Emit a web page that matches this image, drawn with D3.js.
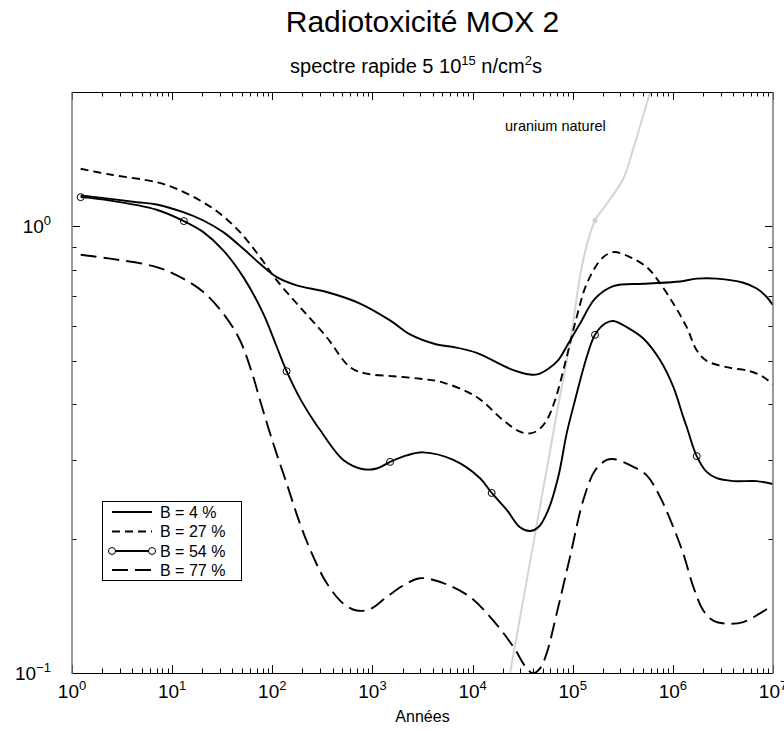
<!DOCTYPE html>
<html><head><meta charset="utf-8">
<script src="https://cdn.jsdelivr.net/npm/d3@7"></script>
<style>body{margin:0;background:#fff;} svg{display:block;font-family:"Liberation Sans",Arial,Helvetica,sans-serif;}</style>
</head><body><svg id="c" width="784" height="731"></svg>
<script>
// ---- data (years, relative radiotoxicity) ----
const years4 = [1.22, 2.4, 4.43, 7.01, 12.9, 20.5, 32.4, 51.4, 75.4, 111, 175, 349, 752, 1500, 2373, 4385, 6427, 10990, 23650, 37490, 45320, 57050, 71760, 90360, 118300, 167000, 254300, 507200, 1180000, 1730000, 2742000, 5056000, 6876000, 8655000, 10000000];
const vals4 = [1.173, 1.153, 1.133, 1.120, 1.076, 1.031, 0.971, 0.891, 0.825, 0.770, 0.738, 0.713, 0.672, 0.616, 0.573, 0.544, 0.537, 0.521, 0.480, 0.466, 0.467, 0.480, 0.502, 0.547, 0.606, 0.689, 0.735, 0.744, 0.753, 0.764, 0.764, 0.748, 0.726, 0.695, 0.666];

const years27 = [1.22, 2.4, 7.01, 11.1, 19.0, 30.1, 47.6, 75.4, 111, 189, 349, 597, 877, 1617, 2987, 5105, 10990, 20280, 29770, 37490, 45320, 54960, 66540, 87070, 109600, 138000, 194800, 254300, 373400, 548000, 690200, 1011000, 1374000, 1730000, 2178000, 3451000, 5893000, 8017000, 10000000];
const vals27 = [1.346, 1.307, 1.256, 1.214, 1.143, 1.068, 0.971, 0.854, 0.757, 0.660, 0.565, 0.484, 0.468, 0.462, 0.456, 0.447, 0.415, 0.368, 0.347, 0.344, 0.350, 0.368, 0.408, 0.510, 0.627, 0.744, 0.847, 0.876, 0.854, 0.811, 0.764, 0.672, 0.595, 0.528, 0.500, 0.484, 0.474, 0.460, 0.442];

const years54 = [1.22, 2.4, 7.01, 13.1, 20.5, 32.4, 51.4, 81.3, 111, 139, 189, 257, 300, 512, 811, 1104, 1500, 2199, 3222, 6427, 11870, 15530, 21930, 29770, 37490, 45320, 57050, 71760, 87070, 105400, 138000, 167000, 210300, 254300, 346000, 507200, 744700, 1011000, 1271000, 1374000, 1730000, 2178000, 2742000, 4018000, 6876000, 10000000];
const vals54 = [1.163, 1.143, 1.090, 1.028, 0.971, 0.884, 0.770, 0.638, 0.537, 0.474, 0.412, 0.368, 0.350, 0.300, 0.286, 0.287, 0.297, 0.307, 0.312, 0.300, 0.273, 0.253, 0.232, 0.212, 0.208, 0.212, 0.232, 0.275, 0.344, 0.408, 0.510, 0.572, 0.606, 0.614, 0.595, 0.561, 0.502, 0.437, 0.374, 0.356, 0.306, 0.282, 0.273, 0.269, 0.269, 0.265];
const markerYears54 = [1.22, 13.1, 139, 1500, 15530, 167000, 1730000];
const markerVals54 = [1.163, 1.028, 0.474, 0.297, 0.253, 0.572, 0.306];

const years77 = [1.22, 2.4, 7.01, 12.9, 20.5, 32.4, 47.6, 64.6, 75.4, 102, 139, 189, 257, 349, 512, 697, 946, 1388, 2034, 2987, 5105, 9425, 16110, 25510, 34730, 40430, 47110, 54960, 69210, 93970, 127600, 167000, 218700, 264300, 373400, 548000, 744700, 1011000, 1271000, 1600000, 2014000, 2535000, 3451000, 5056000, 7417000, 10000000];
const vals77 = [0.864, 0.847, 0.811, 0.764, 0.713, 0.638, 0.556, 0.460, 0.408, 0.327, 0.266, 0.216, 0.182, 0.159, 0.143, 0.138, 0.139, 0.148, 0.157, 0.163, 0.159, 0.148, 0.131, 0.1145, 0.1024, 0.0998, 0.1024, 0.1107, 0.136, 0.182, 0.244, 0.284, 0.300, 0.301, 0.292, 0.277, 0.248, 0.212, 0.185, 0.156, 0.138, 0.131, 0.129, 0.130, 0.136, 0.142];

const yearsU = [21090, 23650, 41050, 69660, 93970, 126800, 167000, 218700, 320100, 402900, 591400, 744700];
const valsU = [0.087, 0.0998, 0.1984, 0.3836, 0.550, 0.839, 1.031, 1.124, 1.280, 1.495, 1.994, 2.351];
const dotYearU = [167000];
const dotValU = [1.031];

const seriesNames = ["B = 4 %", "B = 27 %", "B = 54 %", "B = 77 %"];
const xTickExps = [0, 1, 2, 3, 4, 5, 6, 7];
const yTickExps = [-1, 0];
const minorMults = [2, 3, 4, 5, 6, 7, 8, 9];

const titleText = "Radiotoxicité MOX 2";
const xLabelText = "Années";
const uranLabel = "uranium naturel";

// ---- layout ----
const L = 72, R = 773, T = 92, B = 673;
const svg = d3.select("#c");
const x = d3.scaleLog().domain([1, 1e7]).range([L, R]);
const y = d3.scaleLog().domain([0.1, 2]).range([B, T]);

svg.append("defs").append("clipPath").attr("id", "clip")
  .append("rect").attr("x", L).attr("y", T).attr("width", R - L).attr("height", B - T);

// title
svg.append("text").attr("x", 422.5).attr("y", 32).attr("text-anchor", "middle")
  .attr("font-size", 30).attr("fill", "#000").text(titleText);
const sub = svg.append("text").attr("x", 416).attr("y", 73).attr("text-anchor", "middle")
  .attr("font-size", 20).attr("fill", "#000");
sub.append("tspan").text("spectre rapide 5 10");
sub.append("tspan").attr("dy", -8).attr("font-size", 13).text("15");
sub.append("tspan").attr("dy", 8).text(" n/cm");
sub.append("tspan").attr("dy", -8).attr("font-size", 13).text("2");
sub.append("tspan").attr("dy", 8).text("s");

// ticks
const tk = svg.append("g").attr("stroke", "#000").attr("stroke-width", 1);
const majLen = 8, minLen = 4.5;
xTickExps.forEach(e => {
  const v = Math.pow(10, e);
  const px = Math.round(x(v)) + 0.5;
  tk.append("line").attr("x1", px).attr("x2", px).attr("y1", B).attr("y2", B - majLen);
  tk.append("line").attr("x1", px).attr("x2", px).attr("y1", T).attr("y2", T + majLen);
  if (e < 7) minorMults.forEach(m => {
    const mx = Math.round(x(m * v)) + 0.5;
    tk.append("line").attr("x1", mx).attr("x2", mx).attr("y1", B).attr("y2", B - minLen);
    tk.append("line").attr("x1", mx).attr("x2", mx).attr("y1", T).attr("y2", T + minLen);
  });
});
yTickExps.forEach(e => {
  const v = Math.pow(10, e);
  const py = Math.round(y(v)) + 0.5;
  tk.append("line").attr("x1", L).attr("x2", L + majLen).attr("y1", py).attr("y2", py);
  tk.append("line").attr("x1", R).attr("x2", R - majLen).attr("y1", py).attr("y2", py);
  minorMults.forEach(m => {
    const mv = m * v;
    if (mv > 2.0001) return;
    const my = Math.round(y(mv)) + 0.5;
    tk.append("line").attr("x1", L).attr("x2", L + minLen).attr("y1", my).attr("y2", my);
    tk.append("line").attr("x1", R).attr("x2", R - minLen).attr("y1", my).attr("y2", my);
  });
});

// tick labels
function supText(g, px, py, anchor, exp) {
  const t = g.append("text").attr("x", px).attr("y", py).attr("text-anchor", anchor)
    .attr("font-size", 19).attr("fill", "#000");
  t.append("tspan").text("10");
  t.append("tspan").attr("dy", -8).attr("font-size", 13).text(exp < 0 ? "\u2212" + (-exp) : String(exp));
  return t;
}
const lab = svg.append("g");
xTickExps.forEach(e => supText(lab, x(Math.pow(10, e)), 698, "middle", e));
yTickExps.forEach(e => supText(lab, 51, y(Math.pow(10, e)) + 7, "end", e));

svg.append("text").attr("x", 422.5).attr("y", 722).attr("text-anchor", "middle")
  .attr("font-size", 16).attr("fill", "#000").text(xLabelText);

// data lines
const plot = svg.append("g").attr("clip-path", "url(#clip)");
const line = d3.line().x(d => x(d[0])).y(d => y(d[1])).curve(d3.curveCatmullRom.alpha(0.5));
const zip = (a, b) => a.map((v, i) => [v, b[i]]);

plot.append("path").datum(zip(yearsU, valsU)).attr("d", line)
  .attr("fill", "none").attr("stroke", "#d4d4d4").attr("stroke-width", 2);
plot.selectAll("circle.u").data(zip(dotYearU, dotValU)).enter().append("circle")
  .attr("cx", d => x(d[0])).attr("cy", d => y(d[1])).attr("r", 2.5).attr("fill", "#cfcfcf");

const styles = [
  {ys: years4, vs: vals4, dash: null},
  {ys: years27, vs: vals27, dash: "8,5"},
  {ys: years54, vs: vals54, dash: null},
  {ys: years77, vs: vals77, dash: "16,7"}
];
styles.forEach(s => {
  plot.append("path").datum(zip(s.ys, s.vs)).attr("d", line)
    .attr("fill", "none").attr("stroke", "#000").attr("stroke-width", 1.9)
    .attr("stroke-linejoin", "round")
    .attr("stroke-dasharray", s.dash);
});
plot.selectAll("circle.m").data(zip(markerYears54, markerVals54)).enter().append("circle")
  .attr("cx", d => x(d[0])).attr("cy", d => y(d[1])).attr("r", 3.5)
  .attr("fill", "none").attr("stroke", "#000").attr("stroke-width", 1);

svg.append("text").attr("x", 505).attr("y", 131).attr("font-size", 14.5).attr("fill", "#000").text(uranLabel);

// frame
svg.append("line").attr("x1", L).attr("x2", R).attr("y1", T + 0.5).attr("y2", T + 0.5).attr("stroke", "#000");
svg.append("line").attr("x1", L).attr("x2", R).attr("y1", B + 0.5).attr("y2", B + 0.5).attr("stroke", "#000");
svg.append("line").attr("x1", L).attr("x2", L).attr("y1", T).attr("y2", B + 1).attr("stroke", "#777").attr("stroke-width", 1.5);
svg.append("line").attr("x1", R).attr("x2", R).attr("y1", T).attr("y2", B + 1).attr("stroke", "#777").attr("stroke-width", 1.5);

// legend
const lg = svg.append("g");
lg.append("rect").attr("x", 102.5).attr("y", 501.5).attr("width", 139).attr("height", 79)
  .attr("fill", "#fff").attr("stroke", "#000").attr("stroke-width", 1);
const legY = [512, 531.5, 551, 570];
seriesNames.forEach((n, i) => {
  lg.append("line").attr("x1", 112).attr("x2", 152).attr("y1", legY[i]).attr("y2", legY[i])
    .attr("stroke", "#000").attr("stroke-width", 1.9).attr("stroke-dasharray", styles[i].dash);
  if (i === 2) {
    [112, 152].forEach(cx => lg.append("circle").attr("cx", cx).attr("cy", legY[i]).attr("r", 3.5)
      .attr("fill", "#fff").attr("stroke", "#000").attr("stroke-width", 1));
  }
  lg.append("text").attr("x", 160).attr("y", legY[i] + 5.5).attr("font-size", 16).attr("fill", "#000").text(n);
});
</script></body></html>
